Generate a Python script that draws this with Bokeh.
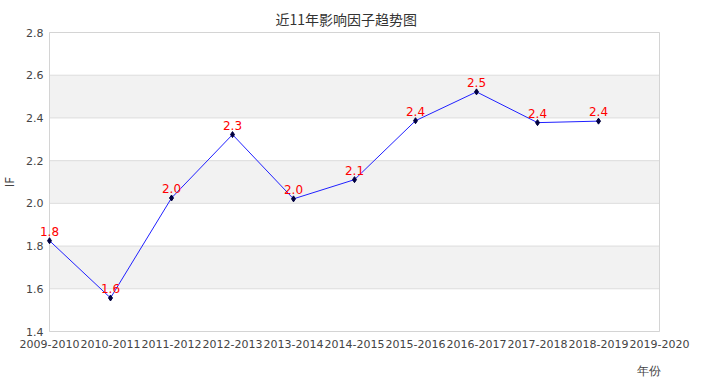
from bokeh.plotting import figure
from bokeh.models import FixedTicker, Title, BoxAnnotation, ColumnDataSource, Range1d, LabelSet
from bokeh.core.properties import value
from bokeh.embed import file_html
from bokeh.resources import INLINE

years = ["2009-2010", "2010-2011", "2011-2012", "2012-2013", "2013-2014", "2014-2015",
         "2015-2016", "2016-2017", "2017-2018", "2018-2019", "2019-2020"]
if_values = [1.825, 1.557, 2.025, 2.322, 2.021, 2.111, 2.387, 2.522, 2.378, 2.385]
if_labels = ["1.8", "1.6", "2.0", "2.3", "2.0", "2.1", "2.4", "2.5", "2.4", "2.4"]
y_ticks = [1.4, 1.6, 1.8, 2.0, 2.2, 2.4, 2.6, 2.8]
bands = [(1.6, 1.8), (2.0, 2.2), (2.4, 2.6)]

FONT = "DejaVu Sans"

# plot box (inner) size in pixels; the frame is padded a little so that labels at
# the left edge are not clipped
BOX_W, BOX_H = 610, 299
PAD_L, PAD = 10, 1
n = len(years)
x_lo, x_hi = 0, n - 1
y_lo, y_hi = y_ticks[0], y_ticks[-1]
ux = (x_hi - x_lo) / BOX_W
uy = (y_hi - y_lo) / BOX_H

p = figure(frame_width=BOX_W + PAD_L + PAD, frame_height=BOX_H + 2 * PAD,
           output_backend="svg", toolbar_location=None,
           x_range=Range1d(x_lo - PAD_L * ux, x_hi + PAD * ux),
           y_range=Range1d(y_lo - PAD * uy, y_hi + PAD * uy),
           min_border_left=39, min_border_right=37, min_border_top=31, min_border_bottom=53)
p.title = None
p.outline_line_color = None

for lo, hi in bands:
    p.add_layout(BoxAnnotation(left=x_lo, right=x_hi, bottom=lo, top=hi, fill_color="#f2f2f2",
                               fill_alpha=1.0, line_alpha=0, level="underlay"))

# grid lines and plot border
p.segment(x0=[x_lo] * len(y_ticks), x1=[x_hi] * len(y_ticks), y0=y_ticks, y1=y_ticks,
          line_color="#dddddd", line_width=1)
p.quad(left=[x_lo], right=[x_hi], bottom=[y_lo], top=[y_hi], fill_alpha=0,
       line_color="#d4d4d4", line_width=1)

xs = list(range(len(if_values)))
src = ColumnDataSource(dict(x=xs, y=if_values, lab=if_labels))
p.line("x", "y", source=src, line_color="#2020ff", line_width=1)
p.scatter("x", "y", source=src, marker="diamond", size=6, fill_color="#000040", line_color="#000040")
p.add_layout(LabelSet(x="x", y="y", text="lab", source=src, text_color="red", text_font=value(FONT),
                      text_font_size="12px", text_align="center", text_baseline="bottom",
                      y_offset=5))

# axes
p.xaxis.ticker = FixedTicker(ticks=list(range(n)))
p.xaxis.major_label_overrides = {i: y for i, y in enumerate(years)}
p.yaxis.ticker = FixedTicker(ticks=y_ticks)
p.yaxis.major_label_overrides = {t: f"{t:.1f}" for t in y_ticks}
for ax in (p.xaxis, p.yaxis):
    ax.axis_line_color = None
    ax.major_tick_line_color = None
    ax.minor_tick_line_color = None
    ax.major_tick_out = 0
    ax.major_tick_in = 0
    ax.minor_tick_out = 0
    ax.minor_tick_in = 0
    ax.major_label_text_font = FONT
    ax.major_label_text_font_size = "11px"
    ax.major_label_text_color = "#444444"
p.xaxis.major_label_standoff = 7
p.yaxis.major_label_standoff = -4
p.yaxis.axis_label = "IF"
p.yaxis.axis_label_text_font = FONT
p.yaxis.axis_label_text_font_style = "normal"
p.yaxis.axis_label_text_font_size = "12px"
p.yaxis.axis_label_text_color = "#444444"
p.yaxis.axis_label_standoff = 6

p.xgrid.grid_line_color = None
p.ygrid.grid_line_color = None

p.add_layout(Title(text="年份", align="right", text_font=FONT, text_font_size="12px",
                   text_font_style="normal", text_color="#444444", standoff=22), "below")
p.add_layout(Title(text="近11年影响因子趋势图", align="left", offset=236, standoff=5,
                   text_font="Noto Sans CJK SC", text_font_size="14px", text_font_style="normal",
                   text_color="#333333"), "above")

open("out.html", "w").write(file_html(p, INLINE))
